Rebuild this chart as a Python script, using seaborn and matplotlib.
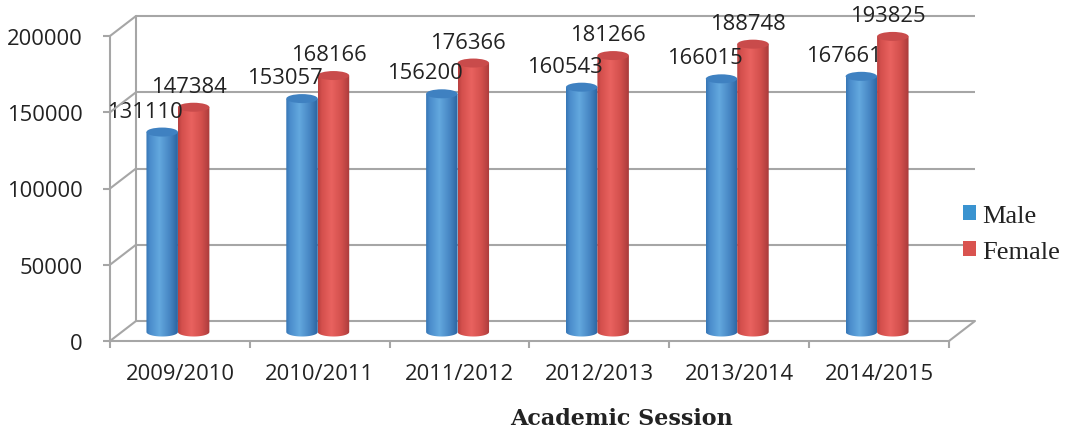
import numpy as np
import pandas as pd
import matplotlib
matplotlib.use("Agg")
import matplotlib.pyplot as plt
import matplotlib.transforms as mtransforms
from matplotlib.path import Path
from matplotlib.patches import PathPatch, Ellipse, Patch
from matplotlib.lines import Line2D
from matplotlib.colors import to_rgb
import seaborn as sns

# ---- data -------------------------------------------------------------
sessions = ["2009/2010", "2010/2011", "2011/2012", "2012/2013", "2013/2014", "2014/2015"]
male = [131110, 153057, 156200, 160543, 166015, 167661]
female = [147384, 168166, 176366, 181266, 188748, 193825]
series = ["Male", "Female"]
y_ticks = [0, 50000, 100000, 150000, 200000]

df = pd.DataFrame({
    "Session": sessions * 2,
    "Students": male + female,
    "Sex": ["Male"] * len(sessions) + ["Female"] * len(sessions),
})
values = {"Male": male, "Female": female}

# ---- style ------------------------------------------------------------
sns.set_theme(style="white")
plt.rcParams["font.family"] = ["Open Sans", "DejaVu Sans"]

DPI = 100
W, H = 1073, 435
TXT = "#222222"
WALL = "#a6a6a6"
LW = 1.5

fig = plt.figure(figsize=(W / DPI, H / DPI), dpi=DPI)
fig.patch.set_facecolor("white")

# front plane of the box (pixel edges)
L, R, B, T = 110, 949, 342, 37
ax = fig.add_axes([L / W, (H - B) / H, (R - L) / W, (B - T) / H])
ax.set_facecolor("none")

flat = {"Male": "#3a93d0", "Female": "#d9534f"}
sns.barplot(data=df, x="Session", y="Students", hue="Sex", hue_order=series,
            order=sessions, palette=flat, width=0.45, gap=0, saturation=1,
            legend=False, ax=ax)

YMAX = y_ticks[-1]
ax.set_xlim(-0.5, len(sessions) - 0.5)
ax.set_ylim(0, YMAX)


def shifted(dx, dy):
    """Data transform displaced by (dx, dy) pixels."""
    return ax.transData + mtransforms.ScaledTranslation(dx / DPI, dy / DPI, fig.dpi_scale_trans)


BACK = (26, 20)   # depth offset of the back wall
MID = (-2, 9)     # plane in which the cylinders stand
back = shifted(*BACK)
mid = shifted(*MID)

# ---- back wall and side wall ------------------------------------------
x_lo, x_hi = -0.5, len(sessions) - 0.5
for yv in y_ticks:
    ax.plot([x_lo, x_hi], [yv, yv], transform=back, color=WALL, lw=LW,
            clip_on=False, zorder=1, solid_capstyle="butt")
ax.plot([x_lo, x_lo], [0, YMAX], transform=back, color=WALL, lw=LW,
        clip_on=False, zorder=1)

diag_pts = [(x_lo, yv) for yv in y_ticks] + [(x_hi, 0)]
for pt in diag_pts:
    p = ax.transData.transform(pt)
    q = p + np.array(BACK)
    fig.add_artist(Line2D([p[0], q[0]], [p[1], q[1]], transform=mtransforms.IdentityTransform(),
                          color=WALL, lw=LW, zorder=1))

# ---- cylinders ----------------------------------------------------------
px_y = YMAX / (B - T)          # data units per pixel vertically
eh = 9 * px_y                  # ellipse height of the cylinder caps


def gradient(stops):
    pos = [s[0] for s in stops]
    cols = np.array([to_rgb(s[1]) for s in stops])
    t = np.linspace(0, 1, 96)
    arr = np.stack([np.interp(t, pos, cols[:, k]) for k in range(3)], axis=-1)
    return arr[np.newaxis, :, :]


shade = {
    "Male": gradient([(0, "#3776b5"), (0.12, "#4a8ccb"), (0.42, "#63a8de"),
                      (0.75, "#4685c3"), (1, "#2b64a0")]),
    "Female": gradient([(0, "#b8403f"), (0.12, "#d4504d"), (0.42, "#e9625f"),
                        (0.75, "#d24f4c"), (1, "#a93b3b")]),
}
cap = {"Male": "#3f81c1", "Female": "#c94b4b"}
label_dx = {"Male": -17, "Female": -5}

for container, key in zip(ax.containers, series):
    for bar, v in zip(container, values[key]):
        bar.set_visible(False)
        x0, w, h = bar.get_x(), bar.get_width(), bar.get_height()
        x1, xc = x0 + w, x0 + w / 2
        t = np.linspace(np.pi, 2 * np.pi, 40)
        arc = np.column_stack([xc + (w / 2) * np.cos(t), (eh / 2) * np.sin(t)])
        verts = np.vstack([[x0, h], [x0, 0], arc, [x1, 0], [x1, h], [x0, h]])
        codes = [Path.MOVETO] + [Path.LINETO] * (len(verts) - 2) + [Path.CLOSEPOLY]
        body = PathPatch(Path(verts, codes), transform=mid, facecolor="none",
                         edgecolor="none", zorder=3)
        ax.add_patch(body)
        im = ax.imshow(shade[key], extent=(x0, x1, -eh / 2, h), aspect="auto",
                       interpolation="bilinear", zorder=3)
        im.set_transform(mid)
        im.set_clip_path(body)
        ax.add_patch(Ellipse((xc, h), w, eh, transform=mid, facecolor=cap[key],
                             edgecolor="none", zorder=4, clip_on=False))
        ax.annotate(f"{v}", xy=(xc, h), xytext=(MID[0] + label_dx[key], MID[1] + 21),
                    textcoords="offset pixels", ha="center", va="center",
                    fontsize=15.8, color=TXT, zorder=6, annotation_clip=False)

ax.set_xlim(x_lo, x_hi)
ax.set_ylim(0, YMAX)

# ---- axes, ticks ------------------------------------------------------------
for side in ("top", "right"):
    ax.spines[side].set_visible(False)
for side in ("left", "bottom"):
    ax.spines[side].set_color(WALL)
    ax.spines[side].set_linewidth(LW)
    ax.spines[side].set_zorder(2)

ax.set_yticks(y_ticks)
ax.set_yticklabels([str(v) for v in y_ticks])
ax.set_xticks(range(len(sessions)))
ax.set_xticklabels(sessions)
ax.set_xticks(np.arange(x_lo, x_hi + 0.01, 1.0), minor=True)
ax.tick_params(axis="y", left=True, direction="out", length=5, width=LW, color=WALL,
               pad=14.5, labelsize=15.8, labelcolor=TXT)
ax.tick_params(axis="x", which="major", bottom=True, length=0, pad=16,
               labelsize=15.8, labelcolor=TXT)
ax.tick_params(axis="x", which="minor", bottom=True, direction="out", length=5,
               width=LW, color=WALL)
ax.set_ylabel("")
ax.set_xlabel("Academic Session", fontfamily="DejaVu Serif", fontweight="bold",
              fontsize=16, color=TXT)
ax.xaxis.set_label_coords(0.61, -0.215)

# ---- legend -------------------------------------------------------------------
handles = [Patch(facecolor=flat[s], edgecolor="none") for s in series]
fig.legend(handles, series, loc="center left", bbox_to_anchor=(963 / W, 1 - 235 / H),
           frameon=False, prop={"family": "Liberation Serif", "size": 19},
           handlelength=0.49, handleheight=0.49, handletextpad=0.25,
           labelspacing=0.55, borderpad=0, borderaxespad=0, labelcolor=TXT)

fig.savefig("out.png", dpi=DPI)
